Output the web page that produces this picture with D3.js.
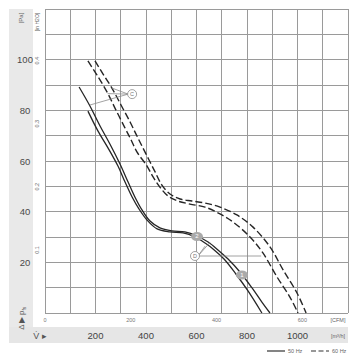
<!DOCTYPE html>
<html><head><meta charset="utf-8">
<script src="https://cdn.jsdelivr.net/npm/d3@7"></script>
<style>body{margin:0;background:#fff}svg{display:block;font-family:"Liberation Sans",Arial,sans-serif}</style>
</head><body><svg id="c" width="356" height="360"></svg>
<script>
// ---- data (flow in m³/h, static pressure in Pa) ----
const curve50a = [[135,89.2],[178,81.7],[218,73.8],[257,66.7],[297,58.8],[329,51.7],[356,45.8],[384,40.7],[416,36.3],[455,33.6],[503,32.4],[554,32.0],[602,30.4],[646,28.0],[685,24.9],[725,21.3],[772,16.2],[820,9.9],[859,4.3],[891,0]];
const curve50b = [[170,79.7],[210,71.8],[250,65.1],[289,58.0],[317,51.7],[345,45.8],[372,41.1],[404,36.7],[444,33.2],[495,32.0],[547,31.6],[594,30.0],[634,27.6],[669,25.0],[709,21.3],[756,15.4],[804,8.7],[859,0]];
const curve60a = [[170,99.5],[206,93.9],[246,87.2],[281,80.1],[317,73.0],[341,68.3],[364,63.6],[404,58.0],[428,53.7],[455,49.7],[487,46.2],[526,44.2],[574,43.0],[634,41.8],[693,39.1],[745,35.9],[812,30.0],[863,23.7],[919,14.2],[970,6.3],[1002,0]];
const curve60b = [[198,99.5],[230,94.3],[265,88.8],[301,82.1],[337,75.4],[360,70.7],[384,65.9],[412,60.4],[436,55.7],[463,50.5],[495,47.0],[535,45.0],[582,44.2],[634,43.4],[693,41.8],[760,38.7],[824,33.9],[891,26.1],[943,17.0],[998,7.9],[1034,0]];
const pressureTicks = [20,40,60,80,100];
const inH2OTicks = [0.1,0.2,0.3,0.4];
const flowTicks = [200,400,600,800,1000];
const cfmTicks = [0,200,400,600];
const legendLabels = ["50 Hz","60 Hz"];

const svg = d3.select("#c");
const x = d3.scaleLinear().domain([0,1200]).range([45,348]);
const y = d3.scaleLinear().domain([0,120]).range([313,9]);
const PA_PER_INH2O = 249.09, M3H_PER_CFM = 1.699;

// background bands
svg.append("rect").attr("x",9).attr("y",9).attr("width",24).attr("height",334).attr("fill","#e9e9e9");
svg.append("rect").attr("x",9).attr("y",327).attr("width",339).attr("height",16).attr("fill","#e6e6e6");
svg.append("rect").attr("x",45).attr("y",9).attr("width",303).attr("height",304).attr("fill","#fff");

// grid
const g = svg.append("g").attr("stroke","#9a9a9a").attr("stroke-width",1).attr("shape-rendering","crispEdges");
x.ticks(12).forEach(v=>g.append("line").attr("x1",x(v)).attr("x2",x(v)).attr("y1",y(0)).attr("y2",y(120)));
y.ticks(12).forEach(v=>g.append("line").attr("y1",y(v)).attr("y2",y(v)).attr("x1",x(0)).attr("x2",x(1200)));

// curves
const line = d3.line().x(d=>x(d[0])).y(d=>y(d[1])).curve(d3.curveCatmullRom.alpha(0.5));
[[curve50a,null],[curve50b,null],[curve60a,"7,3"],[curve60b,"7,3"]].forEach(([c,dash])=>{
  svg.append("path").attr("d",line(c)).attr("fill","none").attr("stroke","#262626")
    .attr("stroke-width",dash?1.4:1.3).attr("stroke-dasharray",dash);
});

// annotations
const ann = svg.append("g").attr("stroke","#8a8a8a").attr("stroke-width",0.8);
const cPos=[345,86.4];
[[265,88.8],[248,86.6],[178,82.1]].forEach(p=>ann.append("line").attr("x1",x(cPos[0])-4).attr("y1",y(cPos[1])).attr("x2",x(p[0])).attr("y2",y(p[1])));
const dPos=[594,22.5];
[[634,26.4],[653,27.8],[856,22.5]].forEach(p=>ann.append("line").attr("x1",x(dPos[0])+3).attr("y1",y(dPos[1])).attr("x2",x(p[0])).attr("y2",y(p[1])));
[[cPos,"C"],[dPos,"D"]].forEach(([p,t])=>{
  svg.append("circle").attr("cx",x(p[0])).attr("cy",y(p[1])).attr("r",4.5).attr("fill","#fff").attr("stroke","#8a8a8a").attr("stroke-width",0.8);
  svg.append("text").attr("x",x(p[0])).attr("y",y(p[1])+2).attr("text-anchor","middle").attr("font-size",5.5).attr("fill","#777").text(t);
});
[[[602,30.2],"2"],[[780,15.0],"1"]].forEach(([p,t])=>{
  svg.append("ellipse").attr("cx",x(p[0])).attr("cy",y(p[1])).attr("rx",6).attr("ry",4.5).attr("fill","#aaa");
  svg.append("text").attr("x",x(p[0])).attr("y",y(p[1])+2).attr("text-anchor","middle").attr("font-size",6).attr("fill","#fff").text(t);
});

// y axis labels
pressureTicks.forEach(v=>svg.append("text").attr("x",25).attr("y",y(v)+3.5).attr("text-anchor","middle")
  .attr("font-size",9.5).attr("fill","#4a4a4a").text(v));
inH2OTicks.forEach(v=>svg.append("text").attr("transform",`translate(39,${y(v*PA_PER_INH2O)}) rotate(-90)`)
  .attr("text-anchor","middle").attr("font-size",5.5).attr("fill","#666").text(v));
svg.append("text").attr("transform","translate(23,18) rotate(-90)").attr("text-anchor","middle").attr("font-size",6).attr("fill","#666").text("[Pa]");
svg.append("text").attr("transform","translate(39,22) rotate(-90)").attr("text-anchor","middle").attr("font-size",5).attr("fill","#666").text("[in H2O]");
svg.append("text").attr("transform","translate(24,315) rotate(-90)").attr("text-anchor","middle").attr("font-size",8).attr("fill","#555")
  .html('▶ p<tspan font-size="5" dy="1.5">fs</tspan>');
svg.append("text").attr("transform","translate(24,327) rotate(-90)").attr("text-anchor","middle").attr("font-size",8).attr("fill","#555").text("Δ");

// x axis labels
cfmTicks.forEach(v=>svg.append("text").attr("x",x(v*M3H_PER_CFM)).attr("y",322).attr("text-anchor","middle")
  .attr("font-size",5.5).attr("fill","#777").text(v));
svg.append("text").attr("x",338).attr("y",322).attr("text-anchor","middle").attr("font-size",5.5).attr("fill","#666").text("[CFM]");
flowTicks.forEach(v=>svg.append("text").attr("x",x(v)).attr("y",339).attr("text-anchor","middle")
  .attr("font-size",9.5).attr("fill","#444").text(v));
svg.append("text").attr("x",338).attr("y",338).attr("text-anchor","middle").attr("font-size",5.5).attr("fill","#666").text("[m³/h]");
svg.append("text").attr("x",40).attr("y",339).attr("text-anchor","middle").attr("font-size",9).attr("fill","#555").text("V̇ ▸");

// legend
const lg = svg.append("g");
lg.append("line").attr("x1",267).attr("x2",285).attr("y1",351).attr("y2",351).attr("stroke","#333").attr("stroke-width",1.2);
lg.append("text").attr("x",288).attr("y",353).attr("font-size",5.5).attr("fill","#666").text(legendLabels[0]);
lg.append("line").attr("x1",311).attr("x2",329).attr("y1",351).attr("y2",351).attr("stroke","#333").attr("stroke-width",1.2).attr("stroke-dasharray","5,2.5");
lg.append("text").attr("x",332).attr("y",353).attr("font-size",5.5).attr("fill","#666").text(legendLabels[1]);
</script></body></html>
